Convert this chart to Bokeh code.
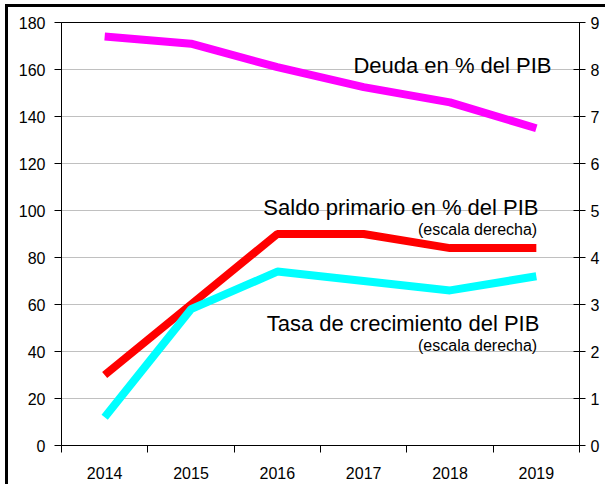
from bokeh.plotting import figure
from bokeh.models import Range1d, LinearAxis, FixedTicker, Label, InlineStyleSheet
from bokeh.embed import file_html
from bokeh.resources import INLINE

years = ["2014", "2015", "2016", "2017", "2018", "2019"]
deuda = [174, 171, 161, 152.5, 146, 135]
saldo = [1.5, 3.0, 4.5, 4.5, 4.2, 4.2]
tasa = [0.6, 2.9, 3.7, 3.5, 3.3, 3.6]
left_ticks = list(range(0, 181, 20))
right_ticks = list(range(0, 10))

xc = [i + 0.5 for i in range(len(years))]
bounds = list(range(len(years) + 1))

FONT = "Liberation Sans"

p = figure(width=600, height=480, output_backend="svg", toolbar_location=None,
           x_range=Range1d(0, len(years)), y_range=Range1d(0, 180),
           min_border_left=53, min_border_right=29, min_border_top=15, min_border_bottom=42,
           background_fill_color="white", border_fill_color="white")
p.stylesheets = [InlineStyleSheet(css=":host { border-left: 3px solid black; border-top: 3px solid black; margin-left: 5px; margin-top: 4px; }")]
p.extra_y_ranges = {"right": Range1d(0, 9)}

p.line(xc, deuda, line_color="#FF00FF", line_width=8)
p.line(xc, saldo, line_color="#FF0000", line_width=8, y_range_name="right")
p.line(xc, tasa, line_color="#00FFFF", line_width=8, y_range_name="right")

# x axis
xa = p.xaxis[0]
xa.ticker = FixedTicker(ticks=xc, minor_ticks=bounds)
xa.major_label_overrides = {xc[i]: years[i] for i in range(len(years))}
xa.major_tick_out = 0
xa.major_tick_in = 0
xa.minor_tick_out = 7
xa.minor_tick_in = 0
xa.minor_tick_line_color = "black"
xa.axis_line_color = "black"
xa.major_label_text_font = FONT
xa.major_label_text_font_size = "16px"
xa.major_label_text_color = "black"
xa.major_label_standoff = 14

# left axis
ya = p.yaxis[0]
ya.ticker = FixedTicker(ticks=left_ticks)
ya.major_tick_out = 7
ya.major_tick_in = 0
ya.minor_tick_out = 0
ya.minor_tick_in = 0
ya.axis_line_color = "black"
ya.major_tick_line_color = "black"
ya.major_label_text_font = FONT
ya.major_label_text_font_size = "16px"
ya.major_label_text_color = "black"
ya.major_label_standoff = 9

# right axis
ra = LinearAxis(y_range_name="right", ticker=FixedTicker(ticks=right_ticks))
ra.major_tick_out = 6
ra.major_tick_in = 6
ra.minor_tick_out = 0
ra.minor_tick_in = 0
ra.axis_line_color = "black"
ra.major_tick_line_color = "black"
ra.major_label_text_font = FONT
ra.major_label_text_font_size = "16px"
ra.major_label_text_color = "black"
ra.major_label_standoff = 5
p.add_layout(ra, "right")

p.xgrid.grid_line_color = None
p.ygrid.ticker = FixedTicker(ticks=left_ticks)
p.ygrid.grid_line_color = "#c0c0c0"
p.ygrid.grid_line_width = 1
p.outline_line_color = "black"

labels = [
    (5.676, 161.7, "Deuda en % del PIB", "22px"),
    (5.525, 101.3, "Saldo primario en % del PIB", "22px"),
    (5.51, 91.9, "(escala derecha)", "16px"),
    (5.535, 51.9, "Tasa de crecimiento del PIB", "22px"),
    (5.51, 42.5, "(escala derecha)", "16px"),
]
for lx, ly, t, fs in labels:
    p.add_layout(Label(x=lx, y=ly, text=t, text_align="right", text_baseline="alphabetic",
                       text_font=FONT, text_font_size=fs, text_color="black"))

open("out.html", "w").write(file_html(p, INLINE))
